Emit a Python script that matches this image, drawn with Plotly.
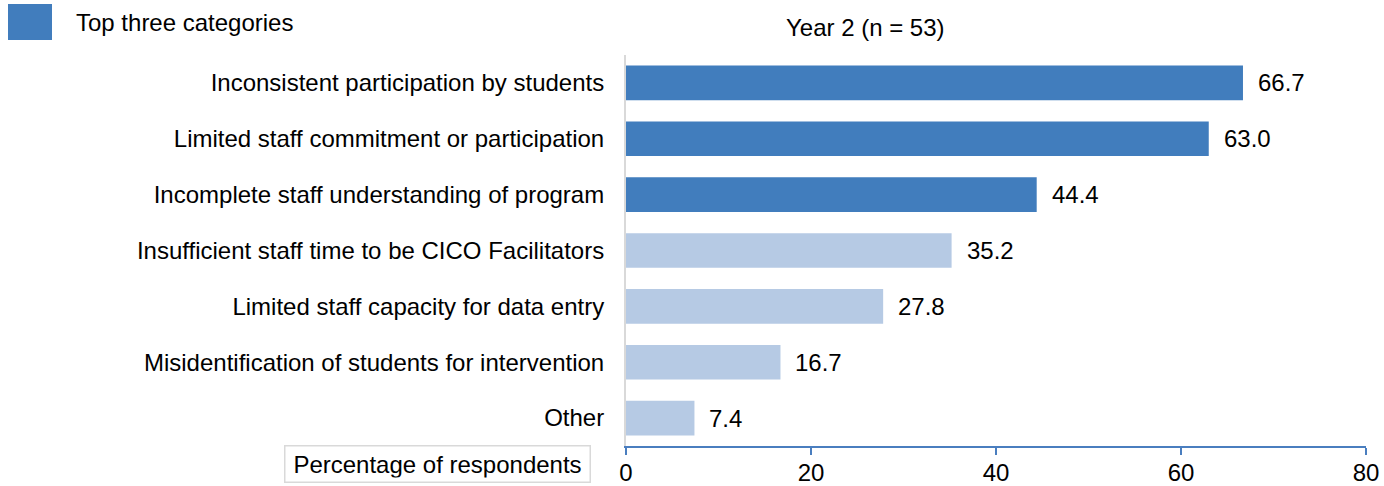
import plotly.graph_objects as go

categories = [
    "Inconsistent participation by students",
    "Limited staff commitment or participation",
    "Incomplete staff understanding of program",
    "Insufficient staff time to be CICO Facilitators",
    "Limited staff capacity for data entry",
    "Misidentification of students for intervention",
    "Other",
]
values = [66.7, 63.0, 44.4, 35.2, 27.8, 16.7, 7.4]
top_three = [True, True, True, False, False, False, False]
x_ticks = [0, 20, 40, 60, 80]

title_text = "Year 2 (n = 53)"
legend_text = "Top three categories"
axis_title = "Percentage of respondents"

DARK = "#417DBD"
LIGHT = "#B6CAE4"
AXIS_BLUE = "#4A7EBF"
FONT = "Liberation Sans, Arial, sans-serif"

W, H = 1384, 486
L, R, T, B = 626, 18, 55, 40
PW, PH = W - L - R, H - T - B


def px_x(px):
    return (px - L) / PW


def px_y(py):
    return (H - B - py) / PH


fig = go.Figure(
    go.Bar(
        y=categories,
        x=values,
        orientation="h",
        marker=dict(color=[DARK if t else LIGHT for t in top_three], line=dict(width=0)),
        showlegend=False,
        hoverinfo="x+y",
    )
)

annotations = []
for c, v in zip(categories, values):
    annotations.append(
        dict(x=v, y=c, xref="x", yref="y", text=f"{v:.1f}", showarrow=False,
             xanchor="left", xshift=13, font=dict(size=24, color="#000", family=FONT))
    )

annotations.append(dict(x=px_x(865), y=px_y(27), xref="paper", yref="paper", text=title_text,
                        showarrow=False, xanchor="center", yanchor="middle",
                        font=dict(size=24, color="#000", family=FONT)))
annotations.append(dict(x=px_x(74), y=px_y(23), xref="paper", yref="paper", text=legend_text,
                        showarrow=False, xanchor="left", yanchor="middle",
                        font=dict(size=24, color="#000", family=FONT)))
annotations.append(dict(x=px_x(437.5), y=px_y(464), xref="paper", yref="paper", text=axis_title,
                        showarrow=False, xanchor="center", yanchor="middle", width=296, align="center",
                        bordercolor="#D9D9D9", borderwidth=1.5, borderpad=4, bgcolor="white",
                        font=dict(size=24, color="#000", family=FONT)))

shapes = [
    dict(type="rect", xref="paper", yref="paper", x0=px_x(8), x1=px_x(52), y0=px_y(4), y1=px_y(40),
         fillcolor=DARK, line=dict(width=0)),
]

fig.update_layout(
    width=W, height=H,
    margin=dict(l=L, r=R, t=T, b=B, pad=0, autoexpand=False),
    paper_bgcolor="white", plot_bgcolor="white",
    bargap=0.38,
    font=dict(family=FONT, size=24, color="#000"),
    annotations=annotations,
    shapes=shapes,
    xaxis=dict(range=[0, 80], tickvals=x_ticks, ticks="outside", ticklen=7, tickwidth=2,
               tickcolor=AXIS_BLUE, showline=True, linecolor=AXIS_BLUE, linewidth=2,
               showgrid=False, zeroline=False, automargin=False, ticklabelstandoff=-3,
               tickfont=dict(size=24, family=FONT, color="#000"), fixedrange=True),
    yaxis=dict(range=[6.5, -0.5], type="category", categoryorder="array", categoryarray=categories,
               showline=True, linecolor="#D9D9D9", linewidth=2, showgrid=False, zeroline=False,
               automargin=False, ticks="", ticklabelstandoff=15,
               tickfont=dict(size=24, family=FONT, color="#000"), fixedrange=True),
)

fig.write_html(
    "out.html",
    config={"displayModeBar": False, "responsive": False},
    post_script="document.body.style.margin='0';document.body.style.overflow='hidden';",
)
